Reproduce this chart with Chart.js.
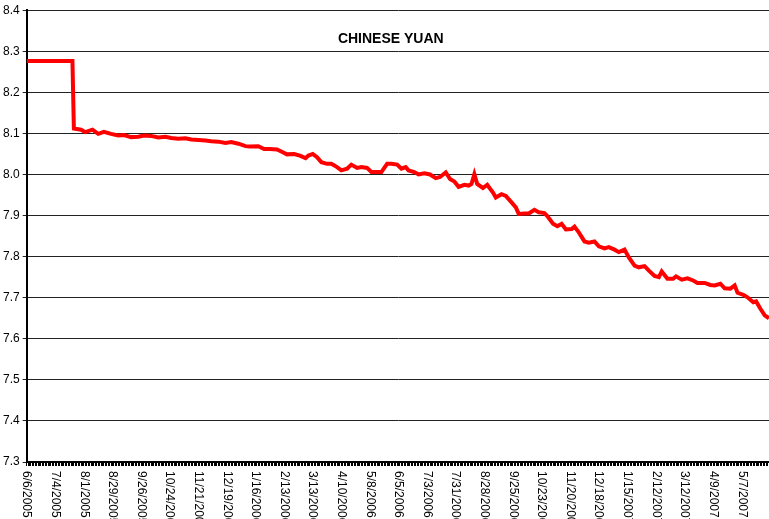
<!DOCTYPE html>
<html>
<head>
<meta charset="utf-8">
<script src="https://cdn.jsdelivr.net/npm/chart.js@4.4.0/dist/chart.umd.min.js"></script>
<style>
  html, body { margin: 0; padding: 0; background: #fff; overflow: hidden; }
  canvas { display: block; }
</style>
</head>
<body>
<canvas id="yuanChart" width="769" height="519"></canvas>
<script>
    // Business day index (0 = 6/6/2005) and USD/CNY rate on that day
    const days = [0, 32, 33, 38, 41, 46, 50, 54, 59, 64, 68, 73, 78, 82, 87, 92, 97, 101, 106, 111,
      115, 120, 125, 129, 134, 139, 143, 148, 153, 156, 162, 166, 170, 175, 178, 182, 187, 191, 195, 197,
      200, 203, 206, 210, 213, 217, 220, 224, 227, 231, 234, 238, 241, 245, 248, 252, 255, 259, 262, 265,
      267, 271, 274, 278, 282, 286, 289, 293, 296, 299, 302, 306, 309, 311, 313, 315, 319, 322, 326, 328,
      332, 335, 339, 342, 344, 348, 351, 355, 358, 362, 364, 368, 371, 374, 377, 381, 383, 386, 390, 393,
      397, 400, 404, 407, 411, 414, 418, 421, 425, 428, 432, 435, 439, 442, 444, 448, 452, 454, 458, 462,
      466, 469, 474, 478, 481, 485, 488, 492, 495, 497, 501, 504, 508, 510, 513, 516, 519];
    const rates = [8.2765, 8.2765, 8.112, 8.109, 8.103, 8.109, 8.099, 8.104, 8.099, 8.095, 8.096, 8.091, 8.092, 8.095, 8.094, 8.090, 8.092, 8.089, 8.087, 8.088,
      8.085, 8.084, 8.083, 8.081, 8.080, 8.077, 8.079, 8.075, 8.069, 8.068, 8.069, 8.062, 8.062, 8.061, 8.056, 8.049, 8.050, 8.046, 8.040, 8.046,
      8.050, 8.042, 8.030, 8.026, 8.026, 8.018, 8.010, 8.014, 8.024, 8.016, 8.018, 8.016, 8.006, 8.006, 8.006, 8.026, 8.026, 8.024, 8.014, 8.018,
      8.010, 8.006, 8.000, 8.003, 8.000, 7.991, 7.994, 8.005, 7.989, 7.983, 7.970, 7.975, 7.973, 7.977, 8.001, 7.977, 7.967, 7.975, 7.956, 7.944,
      7.952, 7.948, 7.932, 7.920, 7.904, 7.905, 7.905, 7.914, 7.908, 7.906, 7.899, 7.880, 7.874, 7.880, 7.866, 7.867, 7.873, 7.859, 7.837, 7.834,
      7.837, 7.825, 7.820, 7.823, 7.817, 7.811, 7.817, 7.798, 7.778, 7.774, 7.777, 7.766, 7.753, 7.750, 7.764, 7.746, 7.746, 7.752, 7.744, 7.747,
      7.742, 7.736, 7.736, 7.731, 7.730, 7.734, 7.723, 7.722, 7.730, 7.712, 7.707, 7.701, 7.689, 7.691, 7.673, 7.657, 7.650];

    // One label every 20 business days
    const tickLabels = ['6/6/2005', '7/4/2005', '8/1/2005', '8/29/2005', '9/26/2005', '10/24/2005', '11/21/2005',
      '12/19/2005', '1/16/2006', '2/13/2006', '3/13/2006', '4/10/2006', '5/8/2006', '6/5/2006', '7/3/2006',
      '7/31/2006', '8/28/2006', '9/25/2006', '10/23/2006', '11/20/2006', '12/18/2006', '1/15/2007', '2/12/2007',
      '3/12/2007', '4/9/2007', '5/7/2007'];
    const labelStep = 20;
    const lastDay = 519;

    const fontFamily = '"Liberation Sans", Arial, sans-serif';

    // Vertical date labels (read top to bottom) and the title inside the plot
    const extraText = {
      id: 'extraText',
      afterDraw(chart) {
        const { ctx, chartArea, scales } = chart;
        ctx.save();
        ctx.fillStyle = '#000';
        ctx.font = '12px ' + fontFamily;
        ctx.textAlign = 'left';
        ctx.textBaseline = 'middle';
        tickLabels.forEach((label, i) => {
          const x = scales.x.getPixelForValue(i * labelStep);
          ctx.save();
          ctx.translate(x, chartArea.bottom + 9);
          ctx.rotate(Math.PI / 2);
          ctx.fillText(label, 0, 0);
          ctx.restore();
        });
        ctx.font = 'bold 14px ' + fontFamily;
        ctx.textAlign = 'center';
        ctx.fillText('CHINESE YUAN', chartArea.left + chartArea.width * 0.4905, chartArea.top + 29);
        ctx.restore();
      }
    };

    const ctx = document.getElementById('yuanChart').getContext('2d');
    const yuanChart = new Chart(ctx, {
      type: 'line',
      data: {
        datasets: [{
          data: days.map((d, i) => ({ x: d, y: rates[i] })),
          borderColor: '#FF0000',
          borderWidth: 4,
          pointRadius: 0,
          fill: false,
          tension: 0
        }]
      },
      options: {
        responsive: false,
        animation: false,
        layout: { padding: { top: 0, left: 0, right: 0, bottom: 53 } },
        plugins: {
          legend: { display: false },
          tooltip: { enabled: false }
        },
        scales: {
          x: {
            type: 'linear',
            min: 0,
            max: lastDay,
            ticks: { display: false, stepSize: 1, autoSkip: false },
            grid: { drawOnChartArea: false, drawTicks: true, tickLength: 4, color: '#000', lineWidth: 1 },
            border: { color: '#000', width: 2 }
          },
          y: {
            min: 7.3,
            max: 8.4,
            ticks: {
              stepSize: 0.1,
              color: '#000',
              padding: 3,
              font: { family: fontFamily, size: 12 }
            },
            grid: { color: '#222', lineWidth: 1, tickLength: 4 },
            border: { color: '#000', width: 2 }
          }
        }
      },
      plugins: [extraText]
    });
</script>
</body>
</html>
